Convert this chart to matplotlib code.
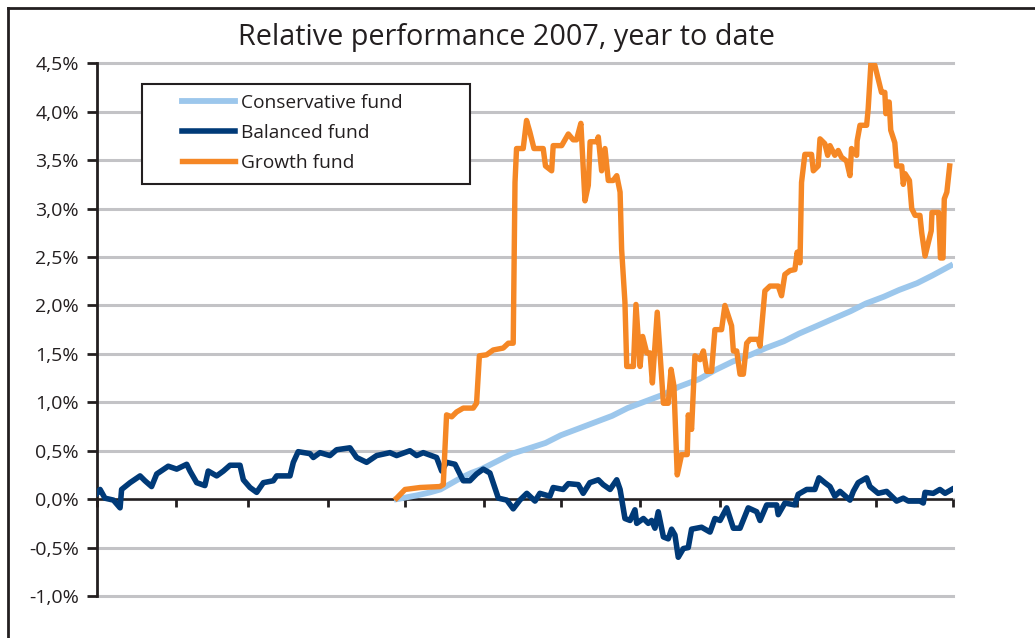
import numpy as np
import matplotlib.pyplot as plt
from matplotlib.lines import Line2D
from matplotlib.patches import Rectangle
from matplotlib.ticker import FuncFormatter

plt.rcParams['font.family'] = ['Open Sans', 'DejaVu Sans']

# x = day of year 2007, y = relative performance in %
month_starts = [0, 31, 59, 90, 120, 151, 181, 212, 243, 273, 304, 334]
y_ticks = [-1.0, -0.5, 0.0, 0.5, 1.0, 1.5, 2.0, 2.5, 3.0, 3.5, 4.0, 4.5]

balanced_day = [0, 1.2, 3.1, 6.4, 9.0, 9.6, 12.9, 16.8, 18.7, 21.3, 23.3, 27.8, 31.1, 35.0, 36.3,
                38.9, 42.1, 43.4, 46.7, 49.3, 51.9, 55.8, 57.1, 59.7, 62.3, 64.9, 68.8, 70.1,
                75.3, 76.6, 78.5, 83.1, 84.4, 87.0, 90.9, 93.5, 98.7, 101.3, 105.2, 109.1,
                114.3, 116.9, 122.1, 124.7, 127.3, 132.5, 134.5, 136.4, 139.7, 142.9, 145.5,
                148.1, 150.7, 153.3, 156.6, 159.9, 162.4, 165.0, 167.7, 170.9, 172.8, 176.7,
                178.0, 181.9, 183.9, 187.8, 189.7, 192.3, 195.6, 197.5, 200.2, 202.8, 204.1,
                206.0, 208.0, 209.9, 210.6, 213.2, 215.1, 216.4, 217.7, 219.0, 221.0, 222.9,
                224.2, 225.5, 226.8, 228.8, 230.7, 232.0, 235.9, 239.2, 241.1, 243.1, 245.7,
                248.3, 250.9, 254.1, 257.4, 258.7, 261.3, 265.2, 265.8, 268.4, 272.3, 273.6,
                276.9, 280.1, 281.7, 284.0, 286.0, 287.9, 289.9, 293.8, 295.1, 297.0, 300.3,
                301.6, 304.8, 308.1, 312.0, 314.6, 316.6, 321.1, 322.4, 323.1, 326.3, 328.9,
                330.9, 333.5]
balanced_val = [0.06, 0.10, 0.01, -0.01, -0.09, 0.10, 0.17, 0.24, 0.19, 0.13, 0.26, 0.34, 0.31,
                0.36, 0.29, 0.17, 0.14, 0.29, 0.24, 0.29, 0.35, 0.35, 0.20, 0.12, 0.07, 0.17,
                0.19, 0.24, 0.24, 0.38, 0.49, 0.47, 0.43, 0.48, 0.45, 0.51, 0.53, 0.43, 0.38,
                0.45, 0.48, 0.45, 0.50, 0.45, 0.48, 0.43, 0.29, 0.38, 0.36, 0.19, 0.19, 0.26,
                0.31, 0.27, 0.01, -0.01, -0.10, -0.01, 0.06, -0.02, 0.06, 0.03, 0.12, 0.10,
                0.16, 0.15, 0.06, 0.17, 0.20, 0.15, 0.10, 0.20, 0.10, -0.20, -0.22, -0.11,
                -0.25, -0.20, -0.25, -0.22, -0.30, -0.13, -0.39, -0.41, -0.31, -0.37, -0.60,
                -0.51, -0.50, -0.31, -0.29, -0.34, -0.20, -0.22, -0.09, -0.30, -0.30, -0.09,
                -0.13, -0.22, -0.06, -0.06, -0.16, -0.04, -0.06, 0.05, 0.10, 0.10, 0.22, 0.17,
                0.13, 0.03, 0.08, -0.01, 0.08, 0.17, 0.22, 0.13, 0.06, 0.08, -0.02, 0.01,
                -0.02, -0.02, -0.04, 0.07, 0.06, 0.10, 0.06, 0.10]

conservative_day = [117, 121, 125, 130, 134, 138, 142, 146, 150, 156, 162, 168, 175, 181, 188,
                    194, 201, 207, 214, 221, 227, 235, 241, 248, 255, 261, 268, 274, 281, 287,
                    294, 300, 307, 313, 320, 326, 333]
conservative_val = [0.00, 0.02, 0.04, 0.07, 0.10, 0.16, 0.22, 0.27, 0.31, 0.39, 0.47, 0.52,
                    0.58, 0.66, 0.73, 0.79, 0.86, 0.94, 1.01, 1.08, 1.16, 1.24, 1.33, 1.42,
                    1.49, 1.56, 1.63, 1.71, 1.79, 1.86, 1.94, 2.02, 2.09, 2.16, 2.23, 2.31,
                    2.41]

growth_day = [116.9, 120.2, 126.0, 133.8, 135.1, 136.4, 138.4, 140.3, 142.9, 146.8, 148.1,
              149.2, 152.0, 154.6, 158.5, 160.5, 162.4, 163.1, 163.7, 166.3, 167.6, 168.9,
              170.5, 174.1, 175.0, 177.4, 178.0, 181.3, 183.9, 185.8, 187.1, 188.8, 190.4,
              191.7, 192.4, 195.0, 195.6, 196.9, 198.2, 199.5, 201.4, 202.8, 204.1, 204.7,
              206.0, 206.7, 209.3, 210.3, 211.9, 212.9, 214.5, 215.8, 216.7, 218.6, 221.0,
              222.9, 224.0, 225.1, 226.4, 228.1, 230.3, 230.7, 232.0, 233.3, 235.3, 236.6,
              237.9, 239.8, 241.1, 243.7, 245.0, 247.6, 248.3, 249.6, 250.9, 252.2, 253.5,
              254.8, 258.0, 258.7, 260.6, 262.6, 265.8, 267.1, 268.4, 270.4, 272.3, 273.2,
              274.3, 274.9, 276.2, 278.8, 279.5, 281.4, 282.1, 284.0, 285.1, 286.0, 287.9,
              289.2, 290.5, 292.5, 293.8, 294.4, 296.4, 296.6, 297.7, 300.3, 300.9, 302.0,
              303.5, 306.1, 307.4, 307.8, 308.3, 309.1, 309.7, 311.3, 312.0, 314.0, 314.6,
              315.3, 317.0, 317.9, 319.2, 321.1, 321.8, 323.1, 324.4, 325.5, 325.8, 328.4,
              329.1, 330.1, 330.6, 331.6, 332.7]
growth_val = [0.01, 0.10, 0.12, 0.13, 0.15, 0.87, 0.85, 0.90, 0.94, 0.94, 0.99, 1.48, 1.49,
              1.54, 1.56, 1.61, 1.61, 3.27, 3.62, 3.62, 3.91, 3.79, 3.62, 3.62, 3.44, 3.39,
              3.65, 3.65, 3.77, 3.71, 3.71, 3.88, 3.08, 3.24, 3.69, 3.69, 3.74, 3.39, 3.62,
              3.29, 3.29, 3.34, 3.17, 2.58, 2.03, 1.37, 1.37, 2.01, 1.37, 1.68, 1.51, 1.51,
              1.20, 1.93, 0.99, 0.99, 1.34, 1.17, 0.25, 0.46, 0.46, 0.87, 0.72, 1.48, 1.44,
              1.53, 1.32, 1.32, 1.75, 1.75, 2.00, 1.79, 1.53, 1.53, 1.29, 1.29, 1.61, 1.65,
              1.65, 1.58, 2.15, 2.20, 2.20, 2.10, 2.32, 2.36, 2.37, 2.55, 2.44, 3.27, 3.56,
              3.56, 3.39, 3.44, 3.72, 3.67, 3.55, 3.65, 3.55, 3.60, 3.53, 3.49, 3.34, 3.62,
              3.55, 3.70, 3.86, 3.86, 4.03, 4.51, 4.48, 4.20, 4.20, 3.98, 4.10, 4.10, 3.81,
              3.68, 3.44, 3.44, 3.25, 3.36, 3.29, 3.00, 2.93, 2.93, 2.75, 2.51, 2.65, 2.77,
              2.96, 2.96, 2.49, 2.49, 3.10, 3.17, 3.44]

W, H = 1035, 638
fig = plt.figure(figsize=(W / 100, H / 100), dpi=100)
ax = fig.add_axes([97 / W, 1 - 596 / H, 856 / W, (596 - 63.3) / H])

ax.set_xlim(0, 334)
ax.set_ylim(-1.0, 4.5)
ax.set_yticks(y_ticks)
ax.yaxis.set_major_formatter(FuncFormatter(lambda v, p: f'{v:.1f}%'.replace('.', ',')))
ax.set_xticks([])
for s in ['top', 'right', 'bottom']:
    ax.spines[s].set_visible(False)
ax.spines['left'].set_linewidth(2)
ax.spines['left'].set_color('#231f20')
ax.tick_params(axis='y', direction='out', length=7, width=2, color='#231f20',
               labelsize=14, labelcolor='#231f20', pad=6)
ax.grid(axis='y', color='#c3c3c6', linewidth=2.2, clip_on=False)
ax.set_axisbelow(True)

# zero line with month ticks
ax.axhline(0, color='#231f20', linewidth=1.8, zorder=2)
ax.vlines(month_starts, -0.085, 0, color='#231f20', linewidth=2, zorder=2, clip_on=False)

ax.plot(conservative_day, conservative_val, color='#9cc7ec', linewidth=4.2, zorder=3,
        label='Conservative fund', solid_joinstyle='round')
ax.plot(balanced_day, balanced_val, color='#003a78', linewidth=4, zorder=4,
        label='Balanced fund', solid_joinstyle='round')
ax.plot(growth_day, growth_val, color='#f58725', linewidth=3.9, zorder=5,
        label='Growth fund', solid_joinstyle='round')

# legend box drawn separately so it can match the reference size
def ax_frac(px, py):
    return ((px - 97) / 856, (596 - py) / (596 - 63.3))

x0, y0 = ax_frac(142, 184)
x1, y1 = ax_frac(470, 84)
ax.add_patch(Rectangle((x0, y0), x1 - x0, y1 - y0, transform=ax.transAxes, facecolor='white',
                       edgecolor='#231f20', linewidth=1.5, zorder=9, clip_on=False))

lx, ly = ax_frac(182, 94)
leg = ax.legend(loc='upper left', bbox_to_anchor=(lx, ly), frameon=False, fontsize=13.8,
                handlelength=2.75, handletextpad=0.35, labelspacing=0.62, borderpad=0,
                borderaxespad=0)
for t in leg.get_texts():
    t.set_color('#231f20')
leg.set_zorder(10)

fig.text(506 / W, 1 - 38 / H, 'Relative performance 2007, year to date', ha='center',
         va='center', fontsize=20.7, color='#231f20')

# outer frame (top and left edges)
fig.add_artist(Line2D([7.5 / W, 7.5 / W], [0, 1 - 8 / H], color='#231f20', linewidth=2))
fig.add_artist(Line2D([7.5 / W, 1], [1 - 8 / H, 1 - 8 / H], color='#231f20', linewidth=2))

fig.savefig('out.png', dpi=100)
